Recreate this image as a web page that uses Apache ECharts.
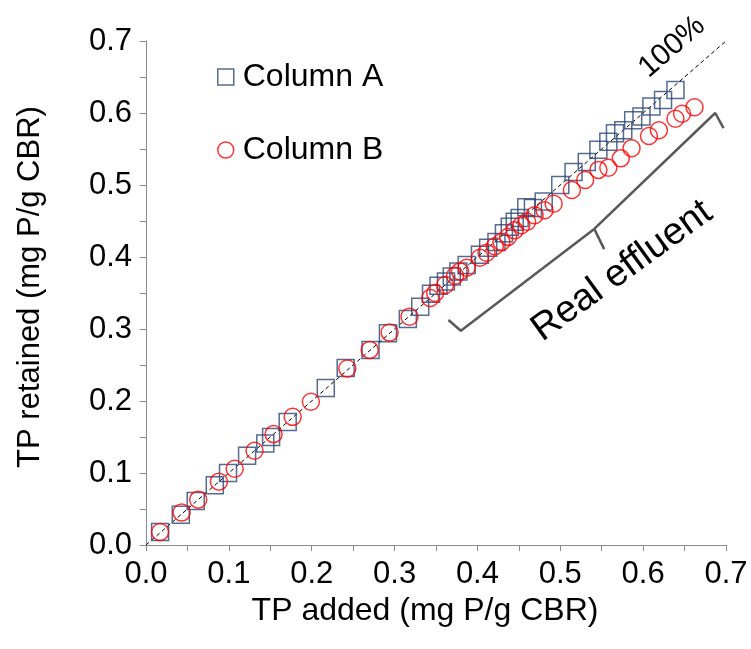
<!DOCTYPE html>
<html>
<head>
<meta charset="utf-8">
<script src="https://cdn.jsdelivr.net/npm/echarts@6/dist/echarts.min.js"></script>
<style>html,body{margin:0;padding:0;background:#fff;}#c{width:751px;height:649px;}</style>
</head>
<body>
<div id="c"></div>
<script>
// Column A: [TP added, TP retained]
const columnA = [
  [0.017,0.018],[0.042,0.042],[0.060,0.061],[0.083,0.083],[0.099,0.100],[0.122,0.124],
  [0.144,0.141],[0.151,0.150],[0.171,0.171],[0.217,0.218],[0.241,0.246],[0.271,0.271],
  [0.292,0.294],[0.316,0.314],[0.331,0.331],[0.344,0.349],[0.353,0.360],[0.362,0.366],
  [0.369,0.373],[0.377,0.380],[0.387,0.389],[0.403,0.403],[0.413,0.413],[0.423,0.421],
  [0.432,0.433],[0.439,0.442],[0.445,0.449],[0.451,0.454],[0.459,0.469],[0.467,0.468],
  [0.480,0.477],[0.500,0.500],[0.516,0.518],[0.532,0.532],[0.546,0.549],[0.558,0.560],
  [0.566,0.572],[0.576,0.576],[0.588,0.590],[0.598,0.595],[0.610,0.609],[0.624,0.618],
  [0.639,0.632]
];
// Column B
const columnB = [
  [0.017,0.018],[0.043,0.045],[0.063,0.063],[0.088,0.088],[0.107,0.106],[0.131,0.131],
  [0.154,0.154],[0.177,0.178],[0.199,0.199],[0.243,0.245],[0.270,0.271],[0.294,0.295],
  [0.318,0.317],[0.343,0.343],[0.349,0.350],[0.361,0.361],[0.373,0.374],[0.379,0.380],
  [0.387,0.385],[0.403,0.399],[0.411,0.406],[0.421,0.415],[0.429,0.421],[0.437,0.428],
  [0.445,0.437],[0.453,0.444],[0.460,0.449],[0.469,0.458],[0.481,0.465],[0.492,0.474],
  [0.514,0.493],[0.530,0.507],[0.546,0.521],[0.558,0.524],[0.573,0.537],[0.586,0.551],
  [0.607,0.568],[0.619,0.576],[0.639,0.592],[0.647,0.599],[0.662,0.608]
];
const oneToOne = [[0,0],[0.7,0.7]];
// bracket annotation (data coordinates)
const bracketArms = [[0.365,0.3125],[0.380,0.2975],[0.541,0.439],[0.687,0.600],[0.697,0.579]];
const bracketStem = [[0.541,0.439],[0.553,0.411]];
const xTicks = ['0.0','0.1','0.2','0.3','0.4','0.5','0.6','0.7'];
const yTicks = ['0.0','0.1','0.2','0.3','0.4','0.5','0.6','0.7'];

const FONT = 'Liberation Sans, Arial, sans-serif';
const navy = '#2c4677', red = '#ff0000', axisGray = '#8a8a8a';

function tickFmt(list){
  return function(v){
    const i = Math.round(v*20);
    if (i % 2 !== 0) return '';
    return list[i/2] || '';
  };
}

const chart = echarts.init(document.getElementById('c'), null, {renderer:'canvas'});
chart.setOption({
  animation:false,
  backgroundColor:'#fff',
  textStyle:{fontFamily:FONT},
  grid:{left:146, right:25, top:41, bottom:104, containLabel:false},
  legend:[
    {data:[{name:'Column A', icon:'rect', itemStyle:{color:'#fff', borderColor:navy, borderWidth:1.5}}],
     left:217, top:61, padding:0, itemWidth:16, itemHeight:16, itemGap:0,
     textStyle:{fontSize:32, color:'#000', fontFamily:FONT, padding:[0,0,0,4]}},
    {data:[{name:'Column B', icon:'circle', itemStyle:{color:'#fff', borderColor:red, borderWidth:1.5}}],
     left:217, top:134, padding:0, itemWidth:16, itemHeight:16, itemGap:0,
     textStyle:{fontSize:32, color:'#000', fontFamily:FONT, padding:[0,0,0,4]}}
  ],
  xAxis:{
    type:'value', min:0, max:0.7, interval:0.05,
    name:'TP added (mg P/g CBR)', nameLocation:'middle', nameGap:45,
    nameTextStyle:{fontSize:32, color:'#000', fontFamily:FONT, padding:[0,22,0,0]},
    axisLine:{show:true, lineStyle:{color:axisGray, width:1}},
    axisTick:{show:true, length:6, inside:false, lineStyle:{color:axisGray}},
    axisLabel:{formatter:tickFmt(xTicks), fontSize:31, color:'#000', margin:14, fontFamily:FONT, showMaxLabel:true, showMinLabel:true},
    splitLine:{show:false}
  },
  yAxis:{
    type:'value', min:0, max:0.7, interval:0.05,
    name:'TP retained (mg P/g CBR)', nameLocation:'middle', nameGap:100, nameRotate:90,
    nameTextStyle:{fontSize:31, color:'#000', fontFamily:FONT, padding:[0,0,0,12]},
    axisLine:{show:true, lineStyle:{color:axisGray, width:1}},
    axisTick:{show:true, length:6, inside:false, lineStyle:{color:axisGray}},
    axisLabel:{formatter:tickFmt(yTicks), fontSize:31, color:'#000', margin:14, fontFamily:FONT},
    splitLine:{show:false}
  },
  series:[
    {name:'100%', type:'line', data:oneToOne, showSymbol:false, symbol:'none', silent:true, z:1,
     lineStyle:{color:'#000', width:1, type:[4,3]}},
    {name:'bracket1', type:'line', data:bracketArms, showSymbol:false, symbol:'none', silent:true, z:1,
     lineStyle:{color:'#595959', width:2.5}},
    {name:'bracket2', type:'line', data:bracketStem, showSymbol:false, symbol:'none', silent:true, z:1,
     lineStyle:{color:'#595959', width:2.5}},
    {name:'Column A', type:'scatter', data:columnA, symbol:'rect', symbolSize:17, z:3,
     itemStyle:{color:'rgba(255,255,255,0)', borderColor:navy, borderWidth:1.5}},
    {name:'Column B', type:'scatter', data:columnB, symbol:'circle', symbolSize:17, z:4,
     itemStyle:{color:'rgba(255,255,255,0)', borderColor:red, borderWidth:1.5}}
  ],
  graphic:[
    {type:'text', x:672, y:47, rotation:41*Math.PI/180, z:10,
     style:{text:'100%', font:'30px '+FONT, fill:'#000', align:'center', verticalAlign:'middle'}},
    {type:'text', x:622, y:271, rotation:36*Math.PI/180, z:10,
     style:{text:'Real effluent', font:'38px '+FONT, fill:'#000', align:'center', verticalAlign:'middle'}}
  ]
});
</script>
</body>
</html>
